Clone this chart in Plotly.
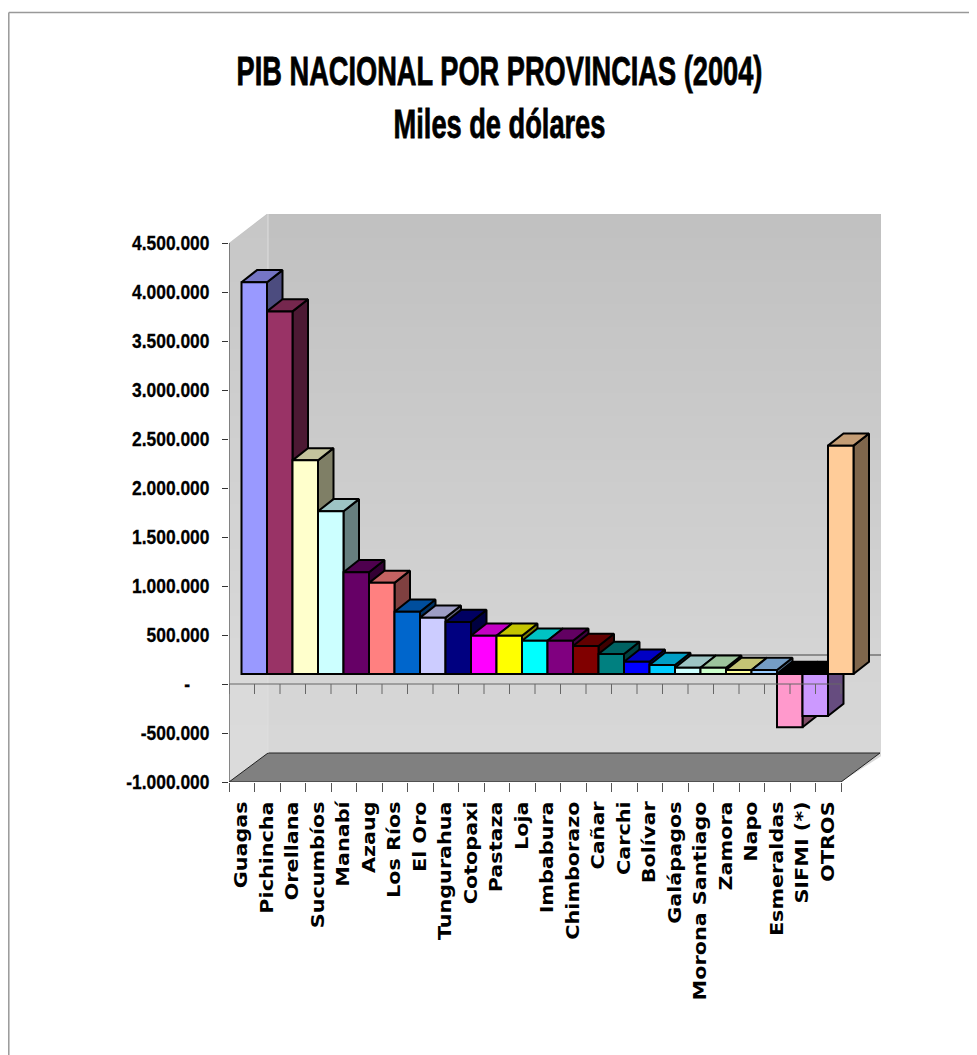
import plotly.graph_objects as go

categories = ["Guagas", "Pichincha", "Orellana", "Sucumbíos", "Manabí", "Azaug", "Los Ríos", "El Oro",
              "Tungurahua", "Cotopaxi", "Pastaza", "Loja", "Imbabura", "Chimborazo", "Cañar", "Carchi",
              "Bolívar", "Galápagos", "Morona Santiago", "Zamora", "Napo", "Esmeraldas", "SIFMI (*)", "OTROS"]
values = [3997000, 3700000, 2180000, 1660000, 1038000, 930000, 636000, 575000,
          530000, 390000, 390000, 340000, 340000, 286000, 204000, 125000,
          92000, 64000, 64000, 41000, 41000, -544000, -429000, 2330000]
colors = ["#9999FF", "#993366", "#FFFFCC", "#CCFFFF", "#660066", "#FF8080", "#0066CC", "#CCCCFF",
          "#000080", "#FF00FF", "#FFFF00", "#00FFFF", "#800080", "#800000", "#008080", "#0000FF",
          "#00CCFF", "#CCFFFF", "#CCFFCC", "#FFFF99", "#99CCFF", "#FF99CC", "#CC99FF", "#FFCC99"]
ytick_vals = [-1000000, -500000, 0, 500000, 1000000, 1500000, 2000000, 2500000, 3000000, 3500000, 4000000, 4500000]
ytick_text = ["-1.000.000", "-500.000", "-\u00a0\u00a0\u00a0\u00a0", "500.000", "1.000.000", "1.500.000", "2.000.000", "2.500.000",
              "3.000.000", "3.500.000", "4.000.000", "4.500.000"]

PX_L, PX_R, PX_T, PX_B = 229.0, 881.0, 214.0, 782.0
OFF = 8
UX = 25.5
UY = 98.0 / 1e6
n = len(categories)
xmax = (PX_R - PX_L) / UX
ymin = -1e6
ymax = ymin + (PX_B - PX_T) / UY
WALL_DX = 39 / UX
WALL_DY = 29 / UY
BAR_DX = 12.5 / UX
BAR_DY = 10 / UY
DEPTH_DX = 15.5 / UX
DEPTH_DY = 12.2 / UY


def shade(hex_color, k):
    r, g, b = (int(hex_color[i:i + 2], 16) for i in (1, 3, 5))
    return f"rgb({int(r * k)},{int(g * k)},{int(b * k)})"


def poly(xs, ys, fill, line="black", w=2):
    return go.Scatter(x=xs + xs[:1], y=ys + ys[:1], mode="lines", fill="toself", fillcolor=fill,
                      line=dict(color=line, width=w), hoverinfo="skip", showlegend=False)


def line(xs, ys, color, w=1, axes=("x", "y")):
    return go.Scatter(x=xs, y=ys, mode="lines", line=dict(color=color, width=w), hoverinfo="skip",
                      showlegend=False, xaxis=axes[0], yaxis=axes[1])


fig = go.Figure()

# gradient walls
fig.add_trace(go.Heatmap(x=[-1, xmax + 1], y=[ymax + 1e5, 0, ymin - 1e5], z=[[0, 0], [0.9, 0.9], [1, 1]],
                         zmin=0, zmax=1, zsmooth="best", showscale=False, hoverinfo="skip",
                         colorscale=[[0, "rgb(192,192,192)"], [1, "rgb(216,216,216)"]]))
# side wall is a touch lighter
fig.add_trace(go.Scatter(x=[0, WALL_DX, WALL_DX, 0, 0], y=[ymax - WALL_DY, ymax, ymin + WALL_DY, ymin, ymax - WALL_DY],
                         mode="lines", fill="toself", fillcolor="rgba(255,255,255,0.1)", line=dict(width=0),
                         hoverinfo="skip", showlegend=False))
# white masks
fig.add_trace(go.Scatter(x=[0, 0, WALL_DX, 0], y=[ymax - WALL_DY, ymax + 1e4, ymax + 1e4, ymax - WALL_DY],
                         mode="lines", fill="toself", fillcolor="white", line=dict(width=0),
                         hoverinfo="skip", showlegend=False))
fig.add_trace(go.Scatter(x=[n, xmax + 0.2, xmax + 0.2, n], y=[ymin, ymin + WALL_DY, ymin - 1e4, ymin],
                         mode="lines", fill="toself", fillcolor="white", line=dict(width=0),
                         hoverinfo="skip", showlegend=False))
# floor
fig.add_trace(poly([0, n, n + WALL_DX, WALL_DX], [ymin, ymin, ymin + WALL_DY, ymin + WALL_DY], "#808080", "#222222", 1))
# wall lines
fig.add_trace(line([0, 0], [ymin, ymax - WALL_DY], "#333333", 1))
fig.add_trace(line([WALL_DX, WALL_DX], [ymin + WALL_DY, ymax], "#dedede", 1))
fig.add_trace(line([WALL_DX, xmax], [WALL_DY, WALL_DY], "#444444", 1))

# bar tops and sides
for i, v in enumerate(values):
    lo = min(v, 0) + BAR_DY
    hi = max(v, 0) + BAR_DY
    xl = i + BAR_DX
    xr = xl + 1
    fig.add_trace(poly([xr, xr, xr + DEPTH_DX, xr + DEPTH_DX], [lo, hi, hi + DEPTH_DY, lo + DEPTH_DY], shade(colors[i], 0.5)))
    top = "black" if v < 0 else shade(colors[i], 0.77)
    fig.add_trace(poly([xl, xr, xr + DEPTH_DX, xl + DEPTH_DX], [hi, hi, hi + DEPTH_DY, hi + DEPTH_DY], top))

# bar fronts
fig.add_trace(go.Bar(x=[i + 0.5 + BAR_DX for i in range(n)], y=values, base=[BAR_DY] * n, width=1,
                     marker=dict(color=colors, line=dict(color="black", width=2)),
                     customdata=categories, hovertemplate="%{customdata}: %{y}<extra></extra>",
                     showlegend=False, xaxis="x2", yaxis="y2"))

# front zero line and ticks over the bars
tx, ty = [0, n], [0, 0]
for k in range(n + 1):
    tx += [None, k, k]
    ty += [None, 0, -10 / UY]
fig.add_trace(line(tx, ty, "#666666", 1, axes=("x2", "y2")))

FRAME_X = (8.8 - PX_L) / (PX_R - PX_L)
FRAME_Y = (PX_B - 12.5) / (PX_B - PX_T)
fig.update_layout(
    width=977 - OFF, height=1055 - OFF, autosize=False,
    margin=dict(l=PX_L - OFF, r=977 - PX_R, t=PX_T - OFF, b=1055 - PX_B, pad=0),
    paper_bgcolor="white", plot_bgcolor="white", showlegend=False, barmode="overlay",
    title=dict(text="PIB NACIONAL POR PROVINCIAS (2004)<br>Miles de dólares",
               x=(499.5 - OFF) / (977 - OFF), xanchor="center", y=1 - (85 - OFF) / (1055 - OFF), yanchor="top",
               font=dict(family="Liberation Sans", size=41, color="black", weight="bold")),
    xaxis=dict(range=[0, xmax], tickmode="array", tickvals=list(range(n + 1)), ticktext=[""] * (n + 1),
               ticks="outside", ticklen=9, tickcolor="#555555", showgrid=False, zeroline=False, showline=False),
    yaxis=dict(range=[ymin, ymax], tickmode="array", tickvals=ytick_vals, ticktext=ytick_text, ticks="outside",
               ticklen=6, tickcolor="#333333", showgrid=False, zeroline=False, showline=False, ticklabelstandoff=10,
               tickfont=dict(family="Liberation Sans", size=21, color="black", weight="bold")),
    xaxis2=dict(range=[0, xmax], overlaying="x", anchor="y2", side="bottom", tickmode="array",
                tickvals=[i + 0.5 for i in range(n)], ticktext=categories, tickangle=-90, ticks="", ticklabelstandoff=15,
                showgrid=False, zeroline=False, showline=False,
                tickfont=dict(family="DejaVu Sans", size=17, color="black", weight="bold")),
    yaxis2=dict(range=[ymin, ymax], overlaying="y", anchor="x2", showticklabels=False, ticks="", showgrid=False,
                zeroline=False, showline=False),
    shapes=[dict(type="line", xref="paper", yref="paper", layer="below", line=dict(color="#999999", width=1.5),
                 x0=FRAME_X, x1=FRAME_X, y0=FRAME_Y, y1=(PX_B - 1060) / (PX_B - PX_T)),
            dict(type="line", xref="paper", yref="paper", layer="below", line=dict(color="#999999", width=1.5),
                 x0=FRAME_X, x1=(980 - PX_L) / (PX_R - PX_L), y0=FRAME_Y, y1=FRAME_Y)],
)

squeeze = """
var gd = document.getElementById('{plot_id}');
function squeeze(sel, sx, stroke) {
  gd.querySelectorAll(sel).forEach(function (t) {
    var x = parseFloat(t.getAttribute('x')) || 0;
    var old = t.getAttribute('transform') || '';
    t.setAttribute('transform', 'translate(' + x + ',0) scale(' + sx + ',1) translate(' + (-x) + ',0) ' + old);
    t.style.stroke = 'black';
    t.style.strokeWidth = stroke + 'px';
  });
}
squeeze('.gtitle', 0.664, 0.8);
squeeze('.ytick text', 0.83, 0.3);
gd.querySelectorAll('.x2tick text').forEach(function (t) {
  var x = parseFloat(t.getAttribute('x')) || 0;
  var y = parseFloat(t.getAttribute('y')) || 0;
  var old = t.getAttribute('transform') || '';
  t.setAttribute('transform', old + ' translate(' + x + ',' + y + ') scale(1.22,1) translate(' + (-x) + ',' + (-y) + ')');
});
"""
fig.write_html("out.html", post_script=squeeze)
